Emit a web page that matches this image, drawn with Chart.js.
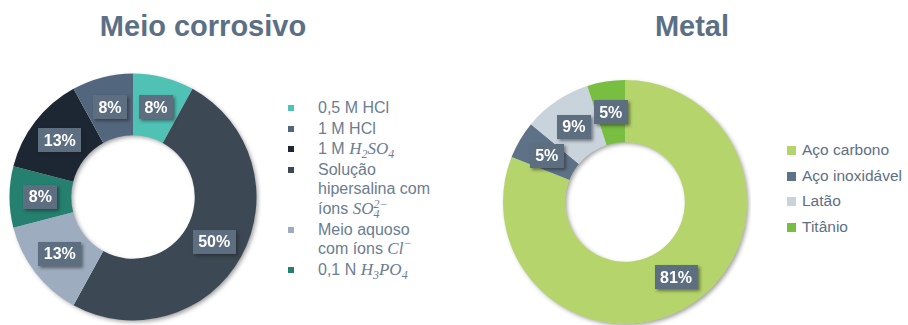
<!DOCTYPE html>
<html lang="pt">
<head>
<meta charset="utf-8">
<title>Meio corrosivo e Metal</title>
<script src="https://cdn.jsdelivr.net/npm/chart.js@4.4.1/dist/chart.umd.min.js"></script>
<style>
  html, body { margin: 0; padding: 0; background: #ffffff; }
  body {
    width: 908px; height: 325px; position: relative; overflow: hidden;
    font-family: "Liberation Sans", Arial, Helvetica, sans-serif;
  }
  .title {
    position: absolute; top: 12px; transform: translateX(-50%);
    font-weight: bold; font-size: 29px; line-height: 29px;
    color: #5b6f85; white-space: nowrap;
  }
  .chart-box { position: absolute; }
  .legend { position: absolute; list-style: none; margin: 0; padding: 0; white-space: nowrap; }
  .legend li { position: relative; }
  .legend .mk { position: absolute; display: block; }
  #legend-corr { left: 318px; top: 98px; font-size: 16px; line-height: 19.5px; color: #6b7d90; }
  #legend-corr li { margin-bottom: 1px; }
  #legend-corr .mk { width: 6px; height: 6px; left: -30px; top: 7px; }
  #legend-metal { left: 802px; top: 141px; font-size: 15.5px; line-height: 18px; color: #5d7084; }
  #legend-metal li { margin-bottom: 7.7px; }
  #legend-metal .mk { width: 9px; height: 9px; left: -15px; top: 5px; }
  .f { font-family: "Liberation Serif", "Times New Roman", serif; font-style: italic; font-size: 17px; line-height: 1; }
  .f sub, .f sup { font-size: 12px; line-height: 0; }
  .f sub { vertical-align: -4px; }
  .f sup { vertical-align: 7px; }
  .ss { display: inline-block; font-size: 12px; line-height: 10px; vertical-align: -4px; }
  .ss span { display: block; }
</style>
</head>
<body>

<div class="title" style="left:203px">Meio corrosivo</div>
<div class="title" style="left:692px">Metal</div>

<div class="chart-box" style="left:5px; top:69px; width:256px; height:256px;">
  <canvas id="chart-corr"></canvas>
</div>
<ul class="legend" id="legend-corr"></ul>

<div class="chart-box" style="left:499px; top:76px; width:252px; height:249px;">
  <canvas id="chart-metal"></canvas>
</div>
<ul class="legend" id="legend-metal"></ul>

<script>
// ---- Meio corrosivo: slices listed clockwise from 12 o'clock ----
const corrosiveLabels = [
  "0,5 M HCl",
  ["Solução", "hipersalina com", "íons SO₄²⁻"],
  ["Meio aquoso", "com íons Cl⁻"],
  "0,1 N H₃PO₄",
  "1 M H₂SO₄",
  "1 M HCl"
];
const corrosiveValues = [8, 50, 13, 8, 13, 8];
const corrosiveColors = ["#4fc1b5", "#3c4854", "#9dadbf", "#25806f", "#1c2733", "#52667d"];
// order in which the legend lists the slices
const corrosiveLegendOrder = [0, 5, 4, 1, 2, 3];

// ---- Metal ----
const metalLabels = ["Aço carbono", "Aço inoxidável", "Latão", "Titânio"];
const metalValues = [81, 5, 9, 5];
const metalColors = ["#b5d46b", "#5e7287", "#c9d3db", "#78bf41"];
const metalLegendOrder = [0, 1, 2, 3];

// Soft drop shadow under the whole ring, drawn before the slices
const ringShadow = {
  id: "ringShadow",
  beforeDatasetsDraw(chart) {
    const arc = chart.getDatasetMeta(0).data[0];
    if (!arc) return;
    const { x, y, outerRadius, innerRadius } =
      arc.getProps(["x", "y", "outerRadius", "innerRadius"], true);
    const ctx = chart.ctx;
    ctx.save();
    ctx.shadowColor = "rgba(40,40,40,0.45)";
    ctx.shadowBlur = 4;
    ctx.shadowOffsetX = 2;
    ctx.shadowOffsetY = 2;
    ctx.beginPath();
    ctx.arc(x, y, outerRadius - 0.5, 0, Math.PI * 2);
    ctx.arc(x, y, innerRadius + 0.5, 0, Math.PI * 2, true);
    ctx.closePath();
    ctx.fillStyle = "#ffffff";
    ctx.fill();
    ctx.restore();
  }
};

// Percentage tags sitting on each slice
const valueTags = {
  id: "valueTags",
  afterDatasetsDraw(chart) {
    const ctx = chart.ctx;
    const values = chart.data.datasets[0].data;
    chart.getDatasetMeta(0).data.forEach((arc, i) => {
      const p = arc.tooltipPosition(true);
      const txt = values[i] + "%";
      ctx.save();
      ctx.font = 'bold 16px "Liberation Sans", Arial, sans-serif';
      const w = Math.round(ctx.measureText(txt).width + 11);
      const h = 24;
      ctx.shadowColor = "rgba(30,30,30,0.5)";
      ctx.shadowBlur = 3;
      ctx.shadowOffsetX = 2;
      ctx.shadowOffsetY = 2;
      ctx.fillStyle = "#5d6e81";
      ctx.fillRect(Math.round(p.x - w / 2), Math.round(p.y - h / 2), w, h);
      ctx.shadowColor = "transparent";
      ctx.fillStyle = "#ffffff";
      ctx.textAlign = "center";
      ctx.textBaseline = "middle";
      ctx.fillText(txt, p.x, p.y + 1);
      ctx.restore();
    });
  }
};

function makeDoughnut(id, labels, values, colors, cutout, padding) {
  return new Chart(document.getElementById(id), {
    type: "doughnut",
    data: {
      labels: labels,
      datasets: [{
        data: values,
        backgroundColor: colors,
        borderWidth: 0,
        hoverOffset: 0
      }]
    },
    options: {
      responsive: true,
      maintainAspectRatio: false,
      animation: false,
      events: [],
      cutout: cutout,
      rotation: 0,
      layout: { padding: padding },
      plugins: {
        legend: { display: false },
        tooltip: { enabled: false }
      }
    },
    plugins: [ringShadow, valueTags]
  });
}

// Chemical formulas: italic serif with sub/superscripts
const SUBS = "₀₁₂₃₄₅₆₇₈₉";
const SUPS = "⁰¹²³⁴⁵⁶⁷⁸⁹⁻";
const SUP_PLAIN = "0123456789−";
function formulaHtml(tok) {
  let out = "", i = 0;
  while (i < tok.length) {
    const ch = tok[i];
    if (SUBS.includes(ch) || SUPS.includes(ch)) {
      let sub = "", sup = "";
      while (i < tok.length && SUBS.includes(tok[i])) sub += SUBS.indexOf(tok[i++]);
      while (i < tok.length && SUPS.includes(tok[i])) sup += SUP_PLAIN[SUPS.indexOf(tok[i++])];
      if (sub && sup) out += '<span class="ss"><span>' + sup + '</span><span>' + sub + '</span></span>';
      else if (sub) out += "<sub>" + sub + "</sub>";
      else out += "<sup>" + sup + "</sup>";
    } else { out += ch; i++; }
  }
  return '<span class="f">' + out + "</span>";
}
function lineHtml(line) {
  return line.split(" ").map(tok =>
    /[₀-₉⁰-⁹⁻]/.test(tok) ? formulaHtml(tok) : tok
  ).join(" ");
}

function renderLegend(chart, elId, order) {
  const items = chart.options.plugins.legend.labels.generateLabels(chart);
  const ul = document.getElementById(elId);
  ul.innerHTML = "";
  order.forEach(idx => {
    const it = items.find(x => x.index === idx);
    const lines = Array.isArray(it.text) ? it.text : [it.text];
    const li = document.createElement("li");
    li.innerHTML = '<span class="mk" style="background:' + it.fillStyle + '"></span>' +
      lines.map(lineHtml).join("<br>");
    ul.appendChild(li);
  });
}

const corrChart = makeDoughnut("chart-corr", corrosiveLabels, corrosiveValues, corrosiveColors,
  "50%", { left: 4.5, top: 4.5, right: 4.5, bottom: 4.5 });
const metalChart = makeDoughnut("chart-metal", metalLabels, metalValues, metalColors,
  "49%", { left: 4, top: 4, right: 4, bottom: 1 });

renderLegend(corrChart, "legend-corr", corrosiveLegendOrder);
renderLegend(metalChart, "legend-metal", metalLegendOrder);
</script>
</body>
</html>
